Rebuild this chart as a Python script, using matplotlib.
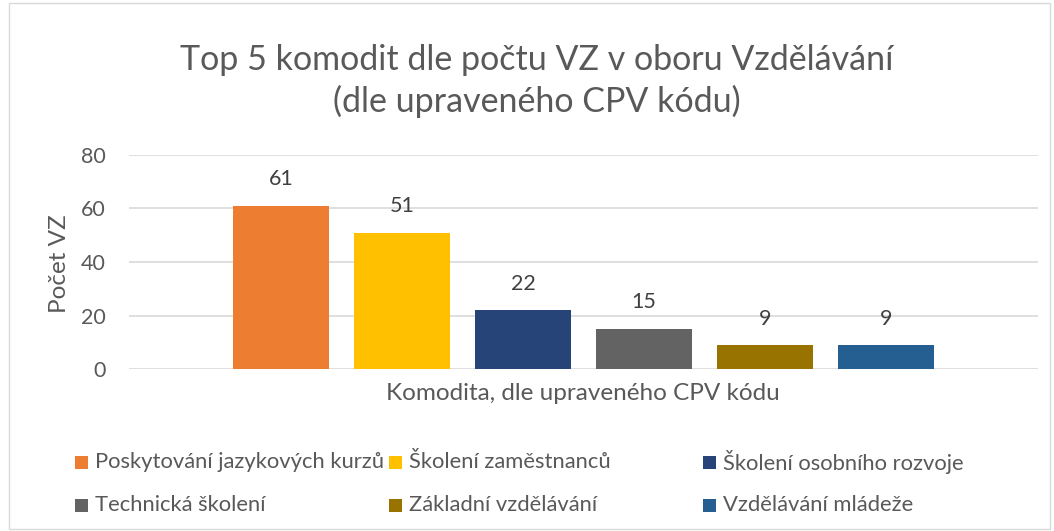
import matplotlib
matplotlib.use("Agg")
import matplotlib.pyplot as plt
from matplotlib.patches import Rectangle

categories = ["Poskytování jazykových kurzů", "Školení zaměstnanců", "Školení osobního rozvoje",
              "Technická školení", "Základní vzdělávání", "Vzdělávání mládeže"]
values = [61, 51, 22, 15, 9, 9]
colors = ["#ED7D31", "#FFC000", "#264478", "#636363", "#997300", "#255E91"]
yticks = [0, 20, 40, 60, 80]
title = "Top 5 komodit dle počtu VZ v oboru Vzdělávání\n(dle upraveného CPV kódu)"
xlabel = "Komodita, dle upraveného CPV kódu"
ylabel = "Počet VZ"

plt.rcParams['font.family'] = ['Lato', 'DejaVu Sans']
W, H = 1054, 531
fig = plt.figure(figsize=(W/100, H/100), dpi=100)
txt = "#595959"

# outer border
fig.patches.append(Rectangle((9/W, 2/H), (1050-9)/W, (528-2)/H, transform=fig.transFigure,
                             fill=False, edgecolor="#D9D9D9", linewidth=1))

ax = fig.add_axes([129/W, 1-369/H, (1038-129)/W, (369-155)/H])
x = list(range(len(values)))
bars = ax.bar(x, values, width=0.79, color=colors, zorder=3)
for b, v in zip(bars, values):
    ax.annotate(str(v), (b.get_x()+b.get_width()/2, v), xytext=(0, 19), textcoords="offset points",
                ha="center", va="center", fontsize=15.5, color="#404040")
ax.set_xlim(2.5-3.756, 2.5+3.756)
ax.set_ylim(0, 80)
ax.set_yticks(yticks)
ax.yaxis.grid(True, color="#D9D9D9", linewidth=1.2, zorder=0)
for s in ax.spines.values():
    s.set_visible(False)
ax.tick_params(axis='y', length=0, labelsize=15.5, labelcolor=txt, pad=17)
ax.set_xticks([])

fig.text(583/W, 1-393/H, xlabel, ha="center", va="center", fontsize=17.5, color=txt)
fig.text(59/W, 1-264/H, ylabel, ha="center", va="center", rotation=90, fontsize=17.5, color=txt)

fig.text(537/W, 1-81/H, title, ha="center", va="center", fontsize=24.5, color=txt,
         linespacing=1.3)

# legend (equal-width columns)
col_x = [75, 389, 703]
row_y = [462, 505]
for i, (c, col) in enumerate(zip(categories, colors)):
    cx = col_x[i % 3]
    cy = row_y[i // 3]
    fig.patches.append(Rectangle((cx/W, 1-(cy+6.5)/H), 13/W, 13/H, transform=fig.transFigure,
                                 facecolor=col, edgecolor="none"))
    fig.text((cx+20)/W, 1-cy/H, c, ha="left", va="center", fontsize=15.8, color=txt)

fig.savefig("out.png", dpi=100)
